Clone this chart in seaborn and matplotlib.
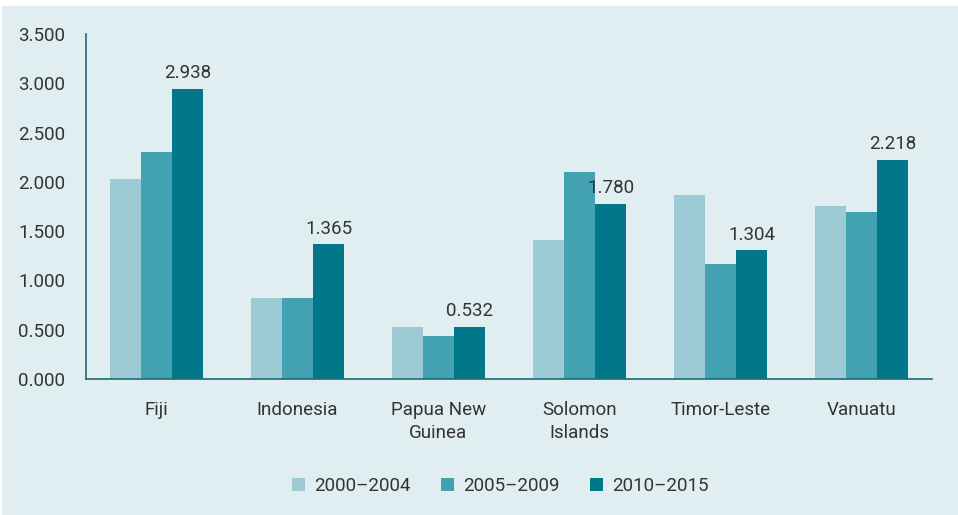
import pandas as pd
import matplotlib.pyplot as plt
import seaborn as sns
from matplotlib.patches import Rectangle

# Datos
countries = ['Fiji', 'Indonesia', 'Papua New\nGuinea', 'Solomon\nIslands', 'Timor-Leste', 'Vanuatu']
periods = ['2000\u20132004', '2005\u20132009', '2010\u20132015']
v_2000_2004 = [2.03, 0.82, 0.53, 1.41, 1.87, 1.76]
v_2005_2009 = [2.30, 0.82, 0.44, 2.10, 1.17, 1.69]
v_2010_2015 = [2.938, 1.365, 0.532, 1.780, 1.304, 2.218]

colores = ['#9ccad5', '#43a2b2', '#00788a']
fondo = '#e0eef1'
texto = '#333333'
fs = 13.5

df = pd.DataFrame({
    'country': countries * 3,
    'period': [periods[0]] * 6 + [periods[1]] * 6 + [periods[2]] * 6,
    'value': v_2000_2004 + v_2005_2009 + v_2010_2015,
})

sns.set_style('white')
plt.rcParams['font.family'] = ['Roboto', 'DejaVu Sans']

fig = plt.figure(figsize=(9.58, 5.15), dpi=100)
fig.patch.set_facecolor(fondo)
# franja blanca arriba e izquierda como en el original
fig.patches.append(Rectangle((0, 1 - 6 / 515), 1, 6 / 515, transform=fig.transFigure,
                             facecolor='white', edgecolor='none', zorder=0))
fig.patches.append(Rectangle((0, 0), 2 / 958, 1, transform=fig.transFigure,
                             facecolor='white', edgecolor='none', zorder=0))

ax = fig.add_axes([86 / 958, 1 - 379 / 515, (932 - 86) / 958, (379 - 34) / 515])
ax.set_facecolor(fondo)

sns.barplot(data=df, x='country', y='value', hue='period', palette=colores,
            width=0.66, gap=0, saturation=1, linewidth=0, ax=ax, legend=True)

ax.set_xlim(-0.5, 5.5)
ax.set_ylim(0, 3.5)
ax.set_yticks([0, 0.5, 1, 1.5, 2, 2.5, 3, 3.5])
ax.set_yticklabels([f'{t:.3f}' for t in ax.get_yticks()])
ax.set_xlabel('')
ax.set_ylabel('')
ax.tick_params(axis='both', length=0, labelsize=fs, colors=texto)
ax.tick_params(axis='y', pad=15)
ax.tick_params(axis='x', pad=16)
for lbl in ax.get_xticklabels():
    lbl.set_linespacing(1.35)

for s in ['top', 'right']:
    ax.spines[s].set_visible(False)
for s in ['left', 'bottom']:
    ax.spines[s].set_color('#1c6b7a')
    ax.spines[s].set_linewidth(1.2)

# etiquetas solo sobre la serie 2010-2015
ax.bar_label(ax.containers[2], labels=[f'{v:.3f}' for v in v_2010_2015],
             padding=5, fontsize=fs, color=texto)

ax.legend(loc='upper center', bbox_to_anchor=(0.49, -0.235), ncol=3, frameon=False,
          fontsize=fs, handlelength=0.7, handleheight=0.7, handletextpad=0.5,
          columnspacing=1.6, labelcolor=texto)

fig.savefig('out.png', dpi=100, facecolor=fig.get_facecolor())
